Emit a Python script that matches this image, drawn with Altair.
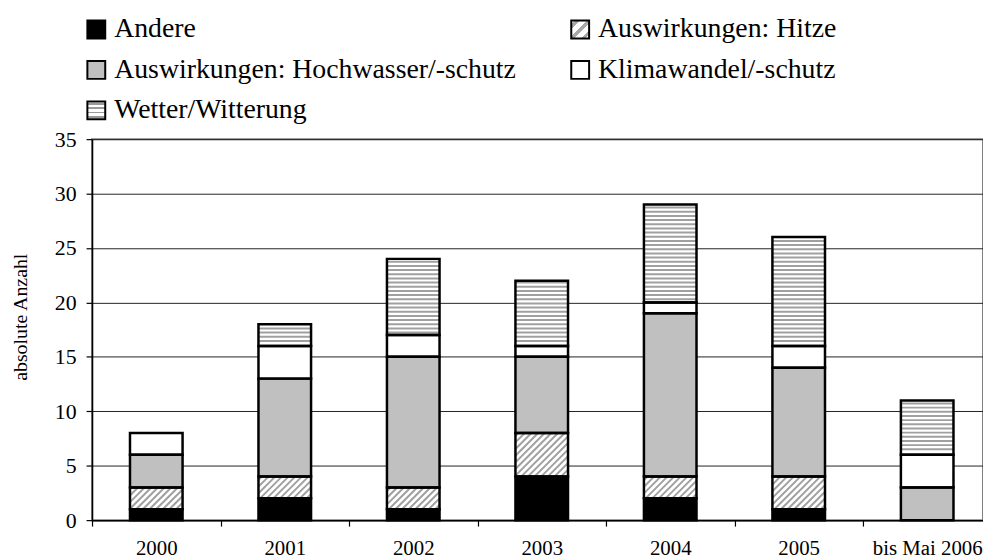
import json
import math
import altair as alt
import pandas as pd

# ---------------- data ----------------
categories = ["2000", "2001", "2002", "2003", "2004", "2005", "bis Mai 2006"]
series = ["Andere", "Auswirkungen: Hitze", "Auswirkungen: Hochwasser/-schutz",
          "Klimawandel/-schutz", "Wetter/Witterung"]
andere = [1, 2, 1, 4, 2, 1, 0]
hitze = [2, 2, 2, 4, 2, 3, 0]
hochwasser = [3, 9, 12, 7, 15, 10, 3]
klima = [2, 3, 2, 1, 1, 2, 3]
wetter = [0, 2, 7, 6, 9, 10, 5]
y_ticks = [0, 5, 10, 15, 20, 25, 30, 35]

# legend entries: (series, column, row)
legend_entries = [("Andere", 0, 0), ("Auswirkungen: Hitze", 1, 0),
                  ("Auswirkungen: Hochwasser/-schutz", 0, 1),
                  ("Klimawandel/-schutz", 1, 1), ("Wetter/Witterung", 0, 2)]

# ---------------- layout / style ----------------
FONT = "Liberation Serif, Times New Roman, serif"
CAT_PX = 129.5          # pixel width of one category
PLOT_W = 898
PLOT_H = 384
Y_MAX = 35
X_MAX = PLOT_W / CAT_PX
BAR_W = 53 / CAT_PX     # bar width in category units
PX_X = CAT_PX
PX_Y = PLOT_H / Y_MAX
fills = ["#000000", "#ffffff", "#c0c0c0", "#ffffff", "#ffffff"]
HATCH = "#a0a0a0"

values = [andere, hitze, hochwasser, klima, wetter]

# ---------------- build stacked segments ----------------
seg_rows = []
for i, cat in enumerate(categories):
    base = 0
    for s, vals in zip(series, values):
        v = vals[i]
        if v > 0:
            seg_rows.append(dict(cat=cat, series=s, y0=base, y1=base + v,
                                 x0=i + 0.5 - BAR_W / 2, x1=i + 0.5 + BAR_W / 2))
        base += v
seg = pd.DataFrame(seg_rows)

# ---------------- hatching derived from the segments ----------------
hatch_rows = []


def hstripes(x0, x1, y0, y1, period=4.2):
    p0, p1 = y0 * PX_Y, y1 * PX_Y
    k = math.ceil((p0 + 1.5) / period)
    while k * period < p1 - 1.5:
        yy = k * period / PX_Y
        hatch_rows.append(dict(hx0=x0, hx1=x1, hy0=yy, hy1=yy))
        k += 1


def diag(x0, x1, y0, y1, period=6.7):
    X0, X1, Y0, Y1 = x0 * PX_X, x1 * PX_X, y0 * PX_Y, y1 * PX_Y
    cmin, cmax = X0 - Y1, X1 - Y0
    for k in range(math.floor(cmin / period), math.ceil(cmax / period) + 1):
        c = k * period
        s = max(X0, Y0 + c)
        e = min(X1, Y1 + c)
        if e - s > 0.5:
            hatch_rows.append(dict(hx0=s / PX_X, hy0=(s - c) / PX_Y,
                                   hx1=e / PX_X, hy1=(e - c) / PX_Y))


for r in seg_rows:
    if r["series"] == "Wetter/Witterung":
        hstripes(r["x0"], r["x1"], r["y0"], r["y1"])
    elif r["series"] == "Auswirkungen: Hitze":
        diag(r["x0"], r["x1"], r["y0"], r["y1"])
hatch = pd.DataFrame(hatch_rows)

xscale = alt.Scale(domain=[0, X_MAX], nice=False, zero=False)
yscale = alt.Scale(domain=[0, Y_MAX], nice=False)

x_axis = alt.Axis(values=list(range(len(categories))),
                  labelExpr=f"{json.dumps(categories)}[datum.value]",
                  labelOffset=CAT_PX / 2, labelFlush=False, labelOverlap=False,
                  labelFont=FONT, labelFontSize=21, labelColor="black",
                  labelPadding=12, tickSize=6, tickColor="black", tickWidth=1.2,
                  domainColor="black", domainWidth=1.5, grid=False, title=None)
y_axis = alt.Axis(values=y_ticks, grid=True, gridColor="#222222", gridWidth=1,
                  tickSize=6, tickColor="black", tickWidth=1.2,
                  domainColor="black", domainWidth=1.5,
                  labelFont=FONT, labelFontSize=22, labelColor="black",
                  labelPadding=10, labelFlush=False,
                  title="absolute Anzahl", titleFont=FONT, titleFontSize=20,
                  titleFontWeight="normal", titleColor="black",
                  titleAngle=270, titleX=-72, titleY=179,
                  titleAlign="center", titleBaseline="middle")

bars = alt.Chart(seg).mark_rect().encode(
    x=alt.X("x0:Q", scale=xscale, axis=x_axis),
    x2="x1:Q",
    y=alt.Y("y0:Q", scale=yscale, axis=y_axis),
    y2="y1:Q",
    fill=alt.Fill("series:N", scale=alt.Scale(domain=series, range=fills), legend=None),
)

hatch_layer = alt.Chart(hatch).mark_rule(color=HATCH, strokeWidth=2).encode(
    x=alt.X("hx0:Q", scale=xscale),
    x2="hx1:Q",
    y=alt.Y("hy0:Q", scale=yscale),
    y2="hy1:Q",
)

outlines = alt.Chart(seg).mark_rect(filled=False, stroke="black", strokeWidth=2.5).encode(
    x=alt.X("x0:Q", scale=xscale),
    x2="x1:Q",
    y=alt.Y("y0:Q", scale=yscale),
    y2="y1:Q",
)

main = alt.layer(bars, hatch_layer, outlines)

# ---------------- custom legend ----------------
leg = pd.DataFrame([dict(series=s, col=c, row=r) for s, c, r in legend_entries])
lx = alt.Scale(domain=[0, 1], range=[4.3, 492])
ly = alt.Scale(domain=[0, 2], range=[-110.5, -29])


def stripe_stops(n, gray):
    stops = []
    for i in range(n):
        a = (i + 0.3) / n
        b = (i + 0.7) / n
        stops += [dict(offset=a, color="#ffffff"), dict(offset=a, color=gray),
                  dict(offset=b, color=gray), dict(offset=b, color="#ffffff")]
    return [dict(offset=0, color="#ffffff")] + stops + [dict(offset=1, color="#ffffff")]


grad_h = dict(gradient="linear", x1=0, y1=0, x2=0, y2=1, stops=stripe_stops(4, "#9a9a9a"))
grad_d = dict(gradient="linear", x1=0, y1=0, x2=1, y2=1, stops=stripe_stops(3, "#a8a8a8"))

leg_base = alt.Chart(leg).encode(
    x=alt.X("col:Q", scale=lx, axis=None),
    y=alt.Y("row:Q", scale=ly, axis=None),
)
solid_names = ["Andere", "Auswirkungen: Hochwasser/-schutz", "Klimawandel/-schutz"]
sw_solid = leg_base.transform_filter(
    alt.FieldOneOfPredicate(field="series", oneOf=solid_names)
).mark_square(size=18 * 18, stroke="black", strokeWidth=2, opacity=1).encode(
    fill=alt.Fill("series:N", scale=alt.Scale(domain=series, range=fills), legend=None)
)
sw_h = leg_base.transform_filter(alt.datum.series == "Wetter/Witterung").mark_square(
    size=18 * 18, stroke="black", strokeWidth=2, fill=grad_h, opacity=1)
sw_d = leg_base.transform_filter(alt.datum.series == "Auswirkungen: Hitze").mark_square(
    size=18 * 18, stroke="black", strokeWidth=2, fill=grad_d, opacity=1)
leg_text = leg_base.mark_text(align="left", baseline="middle", dx=18, font=FONT,
                              fontSize=28, color="black").encode(text="series:N")

legend = alt.layer(sw_solid, sw_h, sw_d, leg_text)

chart = alt.layer(main, legend).resolve_scale(
    x="independent", y="independent", fill="independent"
).properties(
    width=PLOT_W, height=PLOT_H,
    autosize=alt.AutoSizeParams(type="none"),
    padding={"left": 84.7, "top": 130, "right": 0, "bottom": 38},
    background="white",
).configure_view(stroke="#808080", strokeWidth=2)

chart.save("out.html", embed_options={"renderer": "svg", "actions": False})
